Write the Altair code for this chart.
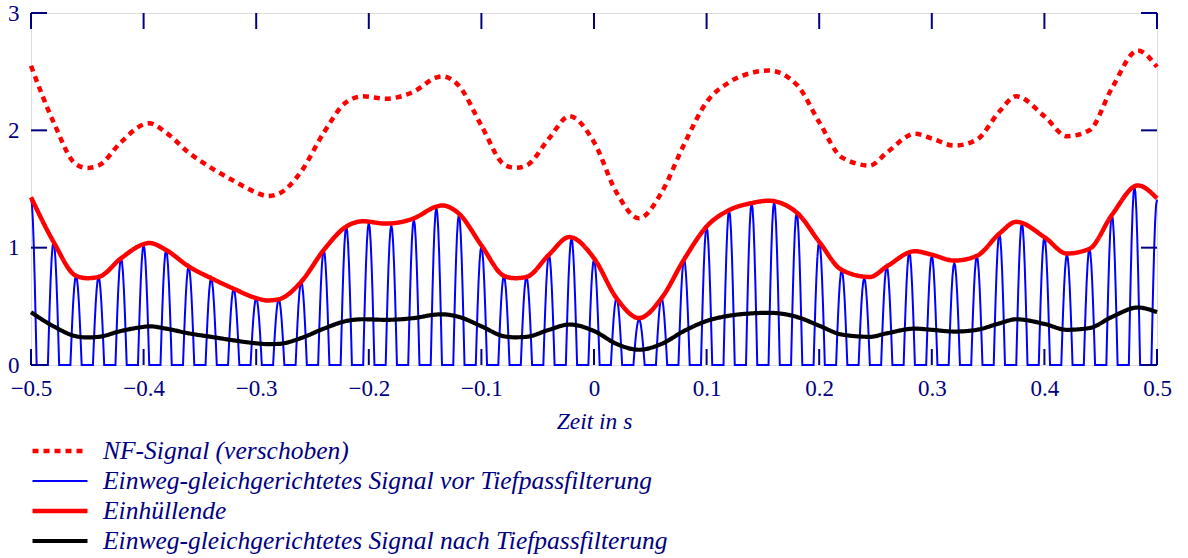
import numpy as np
import pandas as pd
import altair as alt

# Series names (legend labels)
S_NF = "NF-Signal (verschoben)"
S_AM = "Einweg-gleichgerichtetes Signal vor Tiefpassfilterung"
S_ENV = "Einhüllende"
S_LP = "Einweg-gleichgerichtetes Signal nach Tiefpassfilterung"
SERIES = [S_NF, S_AM, S_ENV, S_LP]

NAVY = "#000080"
FONT = "Liberation Serif"

# Time base of the smooth curves (s)
curve_t = [-0.50, -0.48, -0.46, -0.45, -0.44, -0.42, -0.40, -0.395, -0.38, -0.36,
           -0.34, -0.32, -0.30, -0.29, -0.28, -0.26, -0.24, -0.22, -0.205, -0.185,
           -0.16, -0.14, -0.135, -0.12, -0.10, -0.08, -0.07, -0.06, -0.04, -0.022,
           0.00, 0.02, 0.04, 0.06, 0.08, 0.10, 0.12, 0.14, 0.155, 0.18,
           0.20, 0.22, 0.245, 0.26, 0.285, 0.30, 0.32, 0.34, 0.36, 0.375,
           0.40, 0.42, 0.44, 0.46, 0.483, 0.50]

# Envelope of the rectified signal
envelope = [1.43, 1.05, 0.76, 0.74, 0.75, 0.91, 1.03, 1.04, 0.98, 0.84,
            0.74, 0.65, 0.57, 0.55, 0.56, 0.71, 0.98, 1.18, 1.225, 1.205,
            1.25, 1.35, 1.36, 1.29, 1.02, 0.76, 0.74, 0.75, 0.94, 1.09,
            0.91, 0.57, 0.40, 0.57, 0.90, 1.18, 1.32, 1.38, 1.40, 1.30,
            1.05, 0.81, 0.75, 0.84, 0.97, 0.94, 0.89, 0.93, 1.12, 1.22,
            1.09, 0.95, 0.99, 1.28, 1.53, 1.42]

# Audio (NF) signal, shifted upwards
nf_signal = [2.55, 2.07, 1.71, 1.68, 1.70, 1.90, 2.05, 2.06, 1.98, 1.81,
             1.68, 1.57, 1.47, 1.44, 1.46, 1.65, 1.98, 2.24, 2.29, 2.27,
             2.33, 2.45, 2.46, 2.38, 2.04, 1.71, 1.68, 1.70, 1.93, 2.12,
             1.90, 1.47, 1.25, 1.47, 1.88, 2.24, 2.41, 2.49, 2.51, 2.39,
             2.07, 1.77, 1.70, 1.81, 1.97, 1.93, 1.87, 1.92, 2.16, 2.29,
             2.12, 1.95, 2.00, 2.36, 2.68, 2.54]

# Rectified signal after the low-pass filter
lowpass = [0.45, 0.33, 0.245, 0.235, 0.24, 0.29, 0.325, 0.33, 0.31, 0.27,
           0.24, 0.21, 0.185, 0.178, 0.18, 0.23, 0.31, 0.375, 0.39, 0.385,
           0.40, 0.43, 0.432, 0.41, 0.33, 0.245, 0.236, 0.24, 0.30, 0.345,
           0.29, 0.18, 0.13, 0.18, 0.29, 0.375, 0.42, 0.44, 0.445, 0.41,
           0.335, 0.26, 0.24, 0.27, 0.31, 0.30, 0.285, 0.30, 0.355, 0.39,
           0.35, 0.30, 0.315, 0.41, 0.49, 0.45]

# Peak heights of the half-wave rectified 50 Hz carrier, one per period
carrier_peaks = [1.42, 1.05, 0.76, 0.75, 0.91, 1.02, 0.98, 0.84, 0.74, 0.65,
                 0.57, 0.56, 0.71, 0.98, 1.18, 1.21, 1.19, 1.24, 1.34, 1.28,
                 1.01, 0.76, 0.75, 0.94, 1.08,
                 0.90, 0.57, 0.39, 0.57, 0.90, 1.18, 1.32, 1.38, 1.39, 1.30,
                 1.05, 0.81, 0.74, 0.84, 0.96, 0.93, 0.87, 0.93, 1.12, 1.21,
                 1.09, 0.94, 0.99, 1.28, 1.52, 1.41]
CARRIER_HZ = 50.0

X_TICKS = [-0.5, -0.4, -0.3, -0.2, -0.1, 0.0, 0.1, 0.2, 0.3, 0.4, 0.5]
Y_TICKS = [0, 1, 2, 3]

# Half-wave arches of the carrier: cosine lobes around each peak
period = 1.0 / CARRIER_HZ
peak_t = -0.5 + period * np.arange(len(carrier_peaks))
lobe = np.linspace(-1.0, 1.0, 13)
rows = []
for tk, hk in zip(peak_t, carrier_peaks):
    for u in lobe:
        t = tk + u * period / 4
        if -0.5 - 1e-9 <= t <= 0.5 + 1e-9:
            rows.append({"t": t, "v": hk * np.cos(u * np.pi / 2), "series": S_AM})
df_am = pd.DataFrame(rows)

df_smooth = pd.concat([
    pd.DataFrame({"t": curve_t, "v": nf_signal, "series": S_NF}),
    pd.DataFrame({"t": curve_t, "v": envelope, "series": S_ENV}),
    pd.DataFrame({"t": curve_t, "v": lowpass, "series": S_LP}),
])

W, H = 1126, 352

x_scale = alt.Scale(domain=[-0.5, 0.5], nice=False, zero=False)
y_scale = alt.Scale(domain=[0, 3], nice=False, zero=False)

x_enc = alt.X("t:Q", scale=x_scale, title="Zeit in s",
              axis=alt.Axis(values=X_TICKS, format="~g", grid=False, domain=False,
                            ticks=False, labelPadding=12, labelFont=FONT,
                            labelFontSize=23, labelColor=NAVY, titleFont=FONT,
                            titleFontSize=23.5, titleFontStyle="italic",
                            titleFontWeight="normal", titleColor=NAVY,
                            titlePadding=9, labelFlush=False))
y_enc = alt.Y("v:Q", scale=y_scale, title=None,
              axis=alt.Axis(values=Y_TICKS, format="d", grid=False, domain=False,
                            ticks=False, labelPadding=12, labelFont=FONT,
                            labelFontSize=23, labelColor=NAVY, labelOffset=0,
                            labelFlush=False))

legend = alt.Legend(
    title=None, orient="none", legendX=-1, legendY=423, direction="vertical",
    symbolType="stroke", symbolSize=3025, clipHeight=30, rowPadding=0,
    labelOffset=13, padding=0, labelFont=FONT, labelFontSize=25.5,
    labelFontStyle="italic", labelColor=NAVY, labelLimit=0,
)

color_enc = alt.Color("series:N", legend=legend,
                      scale=alt.Scale(domain=SERIES,
                                      range=["#ff0000", "#0000ff", "#ff0000", "#000000"]))
dash_enc = alt.StrokeDash("series:N", legend=legend,
                          scale=alt.Scale(domain=SERIES,
                                          range=[[6, 5], [1, 0], [1, 0], [1, 0]]))
width_enc = alt.StrokeWidth("series:N", legend=legend,
                            scale=alt.Scale(type="ordinal", domain=SERIES,
                                            range=[4.5, 2, 4.5, 4.2]))

am_layer = alt.Chart(df_am).mark_line(interpolate="linear").encode(
    x=x_enc, y=y_enc, color=color_enc, strokeDash=dash_enc, strokeWidth=width_enc,
    detail="series:N")

smooth_layer = alt.Chart(df_smooth).mark_line(interpolate="monotone").encode(
    x=x_enc, y=y_enc, color=color_enc, strokeDash=dash_enc, strokeWidth=width_enc,
    order="t:Q")

# Inward tick marks on all four sides of the frame
df_xt = pd.DataFrame({"t": X_TICKS})
df_yt = pd.DataFrame({"v": Y_TICKS})
tick_style = dict(color=NAVY, strokeWidth=2)
xt_bottom = alt.Chart(df_xt).mark_rule(**tick_style).encode(
    x=alt.X("t:Q", scale=x_scale), y=alt.value(H), y2=alt.value(H - 16))
xt_top = alt.Chart(df_xt).mark_rule(**tick_style).encode(
    x=alt.X("t:Q", scale=x_scale), y=alt.value(0), y2=alt.value(16))
yt_left = alt.Chart(df_yt).mark_rule(**tick_style).encode(
    y=alt.Y("v:Q", scale=y_scale), x=alt.value(0), x2=alt.value(16))
yt_right = alt.Chart(df_yt).mark_rule(**tick_style).encode(
    y=alt.Y("v:Q", scale=y_scale), x=alt.value(W - 16), x2=alt.value(W))

chart = alt.layer(am_layer, smooth_layer, xt_bottom, xt_top, yt_left, yt_right).properties(
    width=W, height=H, autosize="none",
    padding={"left": 31, "top": 13, "right": 31, "bottom": 193},
).configure_view(stroke=NAVY, strokeWidth=2).configure(background="white")

chart.save("out.html", embed_options={"renderer": "svg", "actions": False})
